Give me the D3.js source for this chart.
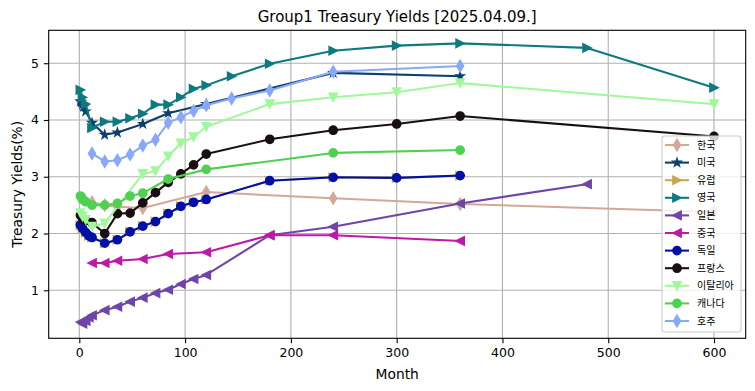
<!DOCTYPE html>
<html><head><meta charset="utf-8">
<script src="https://cdn.jsdelivr.net/npm/d3@7"></script>
<style>body{margin:0;background:#fff}svg{display:block}</style>
</head><body><svg id="c" width="755" height="391"></svg>
<script>
// ---- data ----
const countries = ["한국","미국","유럽","영국","일본","중국","독일","프랑스","이탈리아","캐나다","호주"];
const krMonths = [12,24,36,60,120,240,360,600];
const krYields = [2.55,2.50,2.47,2.45,2.73,2.62,2.52,2.38];
const usMonths = [1,2,3,4,6,12,24,36,60,84,120,240,360];
const usYields = [4.33,4.31,4.27,4.23,4.15,3.95,3.74,3.78,3.93,4.12,4.28,4.83,4.77];
const deMonths = [1,3,6,9,12,24,36,48,60,72,84,96,108,120,180,240,300,360];
const deYields = [2.15,2.09,2.02,1.96,1.93,1.83,1.89,2.03,2.13,2.21,2.35,2.48,2.55,2.60,2.93,2.99,2.98,3.02];
const euMonths = [1,3,6,9,12,24,36,48,60,72,84,96,108,120,180,240,300,360];
const euYields = [2.15,2.09,2.02,1.96,1.93,1.83,1.89,2.03,2.13,2.21,2.35,2.48,2.55,2.60,2.93,2.99,2.98,3.02];
const ukMonths = [1,3,6,12,24,36,48,60,72,84,96,108,120,144,180,240,300,360,480,600];
const ukYields = [4.53,4.40,4.28,3.86,3.97,3.97,4.03,4.11,4.27,4.27,4.40,4.55,4.61,4.77,4.99,5.22,5.31,5.35,5.27,4.57];
const jpMonths = [1,3,6,9,12,24,36,48,60,72,84,96,108,120,180,240,360,480];
const jpYields = [0.44,0.41,0.46,0.52,0.56,0.65,0.71,0.80,0.87,0.95,1.01,1.11,1.20,1.27,1.97,2.12,2.53,2.87];
const cnMonths = [12,24,36,60,84,120,180,240,360];
const cnYields = [1.48,1.48,1.52,1.55,1.64,1.67,1.97,1.97,1.87];
const frMonths = [1,3,6,12,24,36,48,60,72,84,96,108,120,180,240,300,360,600];
const frYields = [2.32,2.27,2.23,2.19,2.00,2.35,2.36,2.54,2.72,2.90,3.05,3.21,3.40,3.66,3.82,3.93,4.07,3.71];
const itMonths = [1,3,6,12,24,60,72,84,96,108,120,180,240,300,360,600];
const itYields = [2.36,2.30,2.24,2.12,2.18,3.05,3.10,3.36,3.59,3.70,3.88,4.28,4.40,4.49,4.65,4.28];
const caMonths = [1,2,3,6,12,24,36,48,60,84,120,240,360];
const caYields = [2.66,2.64,2.60,2.56,2.50,2.50,2.53,2.66,2.71,2.96,3.13,3.42,3.47];
const auMonths = [12,24,36,48,60,72,84,96,108,120,144,180,240,360];
const auYields = [3.41,3.27,3.29,3.39,3.55,3.65,3.95,4.05,4.16,4.26,4.38,4.52,4.85,4.95];
const xTicks = [0,100,200,300,400,500,600];
const yTicks = [1,2,3,4,5];
const titleText = "Group1 Treasury Yields [2025.04.09.]";
const xLabel = "Month";
const yLabel = "Treasury Yields(%)";

// ---- styles ----
const colors = ["#d4a898","#0e3f6e","#c9a84e","#0e7a80","#6f45a8","#bf18a8","#0010a8","#181010","#a0f89a","#50d050","#88a8f8"];
const markers = ["thin_diamond","star","tri_right","tri_right","tri_left","tri_left","circle","circle","tri_down","circle","thin_diamond"];

const monthsAll = [krMonths,usMonths,euMonths,ukMonths,jpMonths,cnMonths,deMonths,frMonths,itMonths,caMonths,auMonths];
const yieldsAll = [krYields,usYields,euYields,ukYields,jpYields,cnYields,deYields,frYields,itYields,caYields,auYields];
const series = countries.map((c,i)=>({name:c,color:colors[i],marker:markers[i],
  pts:monthsAll[i].map((m,j)=>({m:m,v:yieldsAll[i][j]}))}));

const L=48.7,R=745.7,T=30.3,B=338.3;
const x = d3.scaleLinear().domain([-28.95,629.95]).range([L,R]);
const y = d3.scaleLinear().domain([0.154,5.58]).range([B,T]);
const svg = d3.select("#c");
const FONT = "'DejaVu Sans', sans-serif";

// grid
const grid = svg.append("g");
grid.selectAll("line.gx").data(xTicks).join("line")
  .attr("x1",d=>x(d)).attr("x2",d=>x(d)).attr("y1",T).attr("y2",B)
  .attr("stroke","#b0b0b0").attr("stroke-width",1.1);
grid.selectAll("line.gy").data(yTicks).join("line")
  .attr("y1",d=>y(d)).attr("y2",d=>y(d)).attr("x1",L).attr("x2",R)
  .attr("stroke","#b0b0b0").attr("stroke-width",1.1);

// markers
const S = 4.17;
function markerPath(type){
  switch(type){
    case "circle": return d3.symbol(d3.symbolCircle, Math.PI*S*S)();
    case "thin_diamond": {const h=S*1.414,w=h*0.6;return `M0,${-h}L${w},0L0,${h}L${-w},0Z`;}
    case "tri_right": return `M${S},0L${-S},${-S}L${-S},${S}Z`;
    case "tri_left": return `M${-S},0L${S},${-S}L${S},${S}Z`;
    case "tri_down": return `M0,${S}L${-S},${-S}L${S},${-S}Z`;
    case "star": {let p=[];const ri=S*0.381966;for(let k=0;k<10;k++){const r=k%2?ri:S;const a=-Math.PI/2+k*Math.PI/5;p.push([r*Math.cos(a),r*Math.sin(a)]);}return "M"+p.map(q=>q[0].toFixed(2)+","+q[1].toFixed(2)).join("L")+"Z";}
  }
}

const plot = svg.append("g");
const line = d3.line().x(d=>x(d.m)).y(d=>y(d.v));
series.forEach(s=>{
  const g = plot.append("g");
  g.append("path").attr("d",line(s.pts)).attr("fill","none").attr("stroke",s.color)
    .attr("stroke-width",2.08).attr("stroke-linejoin","round").attr("stroke-linecap","square");
  g.selectAll("path.m").data(s.pts).join("path").attr("class","m")
    .attr("d",markerPath(s.marker)).attr("transform",d=>`translate(${x(d.m)},${y(d.v)})`)
    .attr("fill",s.color).attr("stroke",s.color).attr("stroke-width",1.39).attr("stroke-linejoin","miter");
});

// axes
const xa = svg.append("g").attr("transform",`translate(0,${B})`)
  .call(d3.axisBottom(x).tickValues(xTicks).tickSize(4.9).tickPadding(4.9).tickFormat(d3.format("d")));
const ya = svg.append("g").attr("transform",`translate(${L},0)`)
  .call(d3.axisLeft(y).tickValues(yTicks).tickSize(4.9).tickPadding(4.9).tickFormat(d3.format("d")));
[xa,ya].forEach(a=>{
  a.select(".domain").remove();
  a.selectAll(".tick line").attr("stroke","#000").attr("stroke-width",1.1);
  a.selectAll(".tick text").attr("fill","#000").style("font-family",FONT).style("font-size","12.5px");
});
svg.append("rect").attr("x",L).attr("y",T).attr("width",R-L).attr("height",B-T)
  .attr("fill","none").attr("stroke","#000").attr("stroke-width",1.1);

// labels
svg.append("text").attr("x",(L+R)/2).attr("y",22).attr("text-anchor","middle")
  .style("font-family",FONT).style("font-size","15px").text(titleText);
svg.append("text").attr("x",(L+R)/2).attr("y",379).attr("text-anchor","middle")
  .style("font-family",FONT).style("font-size","13.8px").text(xLabel);
svg.append("text").attr("transform",`translate(21.5,${(T+B)/2}) rotate(-90)`).attr("text-anchor","middle")
  .style("font-family",FONT).style("font-size","13.8px").text(yLabel);

// legend
const lg = svg.append("g");
lg.append("rect").attr("x",662).attr("y",136).attr("width",79).attr("height",196).attr("rx",2.5)
  .attr("fill","#fff").attr("fill-opacity",0.8).attr("stroke","#cccccc").attr("stroke-width",1.1);
series.forEach((s,i)=>{
  const yy = 145 + i*17.6;
  lg.append("line").attr("x1",665).attr("x2",689).attr("y1",yy).attr("y2",yy)
    .attr("stroke",s.color).attr("stroke-width",2.08);
  lg.append("path").attr("d",markerPath(s.marker)).attr("transform",`translate(677,${yy})`)
    .attr("fill",s.color).attr("stroke",s.color).attr("stroke-width",1.39);
  lg.append("text").attr("x",697).attr("y",yy).attr("dy","0.35em")
    .style("font-family","'Noto Sans CJK KR', sans-serif").style("font-size","10px").text(s.name);
});
</script></body></html>
